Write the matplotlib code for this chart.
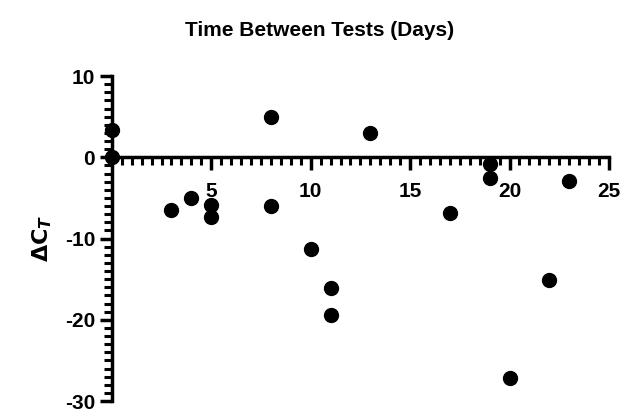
import matplotlib
matplotlib.use("Agg")
import matplotlib.pyplot as plt
from matplotlib.ticker import MultipleLocator

plt.rcParams['font.family'] = ['Liberation Sans', 'DejaVu Sans']
plt.rcParams['font.weight'] = 'bold'
plt.rcParams['axes.unicode_minus'] = False

days = [0, 0, 3, 4, 5, 5, 8, 8, 10, 11, 11, 13, 17, 19, 19, 20, 22, 23]
delta_ct = [3.4, 0.0, -6.5, -5.0, -5.9, -7.4, 5.0, -6.0, -11.3, -16.1, -19.4,
            3.0, -6.8, -0.8, -2.6, -27.2, -15.1, -2.9]

x_ticks = [5, 10, 15, 20, 25]
y_ticks = [-30, -20, -10, 0, 10]

fig = plt.figure(figsize=(6.39, 4.16), dpi=100)
ax = fig.add_axes([0.175, 0.036, 0.778, 0.781])

ax.scatter(days, delta_ct, s=100, color='black', zorder=3, clip_on=False)

ax.set_xlim(0, 25)
ax.set_ylim(-30, 10)

ax.spines['top'].set_visible(False)
ax.spines['right'].set_visible(False)
ax.spines['bottom'].set_position(('data', 0))
ax.spines['left'].set_linewidth(2.5)
ax.spines['bottom'].set_linewidth(2.5)

ax.set_xticks(x_ticks)
ax.set_yticks(y_ticks)
ax.xaxis.set_minor_locator(MultipleLocator(0.5))
ax.yaxis.set_minor_locator(MultipleLocator(1))
ax.tick_params(axis='both', which='major', length=9, width=2.5, labelsize=15)
ax.tick_params(axis='both', which='minor', length=6, width=2.2)
ax.tick_params(axis='x', which='major', pad=9)
ax.tick_params(axis='y', which='major', pad=3)

ax.set_ylabel(r'$\mathbf{\Delta C_{\mathit{T}}}$', fontsize=16, labelpad=8)
fig.suptitle('Time Between Tests (Days)', fontsize=15, fontweight='bold', y=0.95)

fig.savefig('out.png', dpi=100)
